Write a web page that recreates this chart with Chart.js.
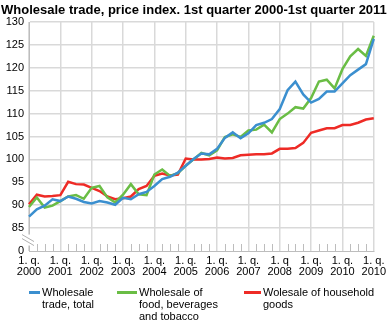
<!DOCTYPE html>
<html>
<head>
<meta charset="utf-8">
<script src="https://cdn.jsdelivr.net/npm/chart.js@4.4.1/dist/chart.umd.min.js"></script>
<style>
  html, body { margin:0; padding:0; background:#fff; }
  body { width:390px; height:321px; position:relative; overflow:hidden; font-family:"Liberation Sans", Arial, sans-serif; }
  #title { position:absolute; left:1px; top:2px; font-weight:bold; font-size:13px; color:#000; white-space:nowrap; letter-spacing:0px; }
  #wrap { position:absolute; left:0; top:0; width:390px; height:321px; }
  .lg { position:absolute; font-size:11px; line-height:12px; color:#000; }
  .lg .sw { position:absolute; left:0; top:5px; height:3px; }
  .lg .tx { position:absolute; top:0; white-space:nowrap; }
</style>
</head>
<body>
<div id="wrap"><canvas id="c" width="390" height="321"></canvas></div>
<div id="title">Wholesale trade, price index. 1st quarter 2000-1st quarter 2011</div>
<div id="legend"></div>
<script>
const quarters = [];
for (let y = 2000; y <= 2011; y++) for (let q = 1; q <= 4; q++) if (!(y === 2011 && q > 1)) quarters.push(q + '. q. ' + y);

const yearTicks = [
  ["1. q.","2000"],["1. q.","2001"],["1. q.","2002"],["1. q.","2003"],
  ["1. q.","2004"],["1. q.","2005"],["1. q.","2006"],["1. q.","2007"],
  ["1. q","2008"],["1. q.","2009"],["1. q.","2010"],["1. q.","2010"]
];

const wholesaleTotal = [87.5,89.1,89.9,91.3,90.9,91.9,91.4,90.7,90.4,90.9,90.6,90.1,
  91.6,91.3,92.4,92.9,94.2,95.7,96.2,97.1,98.6,100.1,101.3,101.1,
  102.3,104.7,105.9,104.6,105.7,107.5,108.0,108.8,111.0,115.1,117.0,114.2,
  112.4,113.2,114.8,114.8,116.6,118.4,119.6,120.8,126.3];

const foodBeverages = [89.6,91.7,89.5,89.9,90.9,91.9,92.2,91.4,93.8,94.2,91.7,90.6,
  92.3,94.6,92.4,92.2,96.7,97.8,96.4,97.0,98.6,100.0,101.4,100.9,
  102.0,104.9,105.5,104.9,106.3,106.5,107.6,105.9,108.8,110.0,111.4,111.1,
  113.4,117.0,117.4,115.5,119.7,122.5,124.1,122.6,127.0];

const householdGoods = [90.2,92.3,91.9,92.0,92.2,95.1,94.6,94.5,93.8,93.1,91.9,91.3,
  91.5,91.9,93.5,94.2,96.4,96.9,96.5,96.7,100.2,100.0,100.0,100.1,
  100.4,100.2,100.3,100.9,101.0,101.1,101.1,101.3,102.3,102.3,102.5,103.6,
  105.8,106.3,106.8,106.8,107.5,107.5,108.0,108.7,109.0];

const seriesNames = [["Wholesale","trade, total"],["Wholesale of","food, beverages","and tobacco"],["Wolesale of household","goods"]];
const colors = ['#3b8fcf','#6abd45','#ee2b26'];

const FONT = '"Liberation Sans", Arial, sans-serif';
const GRID = '#d9d9d9';
const AXIS = '#bdbdbd';

const extras = {
  id: 'extras',
  afterDraw(chart) {
    const ctx = chart.ctx, xs = chart.scales.x, ys = chart.scales.y;
    const bottom = ys.getPixelForValue(80);
    ctx.save();
    ctx.strokeStyle = AXIS; ctx.lineWidth = 1;
    for (let i = 0; i < quarters.length; i++) {
      if (i % 4 === 0) continue;
      const px = Math.round(xs.getPixelForValue(i)) + 0.5;
      ctx.beginPath(); ctx.moveTo(px, bottom); ctx.lineTo(px, bottom - 7); ctx.stroke();
    }
    // axis break
    const left = chart.chartArea.left;
    const y85 = ys.getPixelForValue(85);
    const mid = (y85 + bottom) / 2 + 1;
    ctx.fillStyle = '#fff';
    ctx.fillRect(left - 4, mid - 6, 8, 11);
    ctx.strokeStyle = '#b0b0b0'; ctx.lineWidth = 1;
    for (const off of [-2, 2]) {
      ctx.beginPath(); ctx.moveTo(left - 7, mid - 4 + off); ctx.lineTo(left + 5, mid + 3 + off); ctx.stroke();
    }
    ctx.restore();
  }
};

new Chart(document.getElementById('c'), {
  type: 'line',
  data: {
    labels: quarters,
    datasets: [
      { label: seriesNames[0].join(' '), data: wholesaleTotal, borderColor: colors[0] },
      { label: seriesNames[1].join(' '), data: foodBeverages, borderColor: colors[1] },
      { label: seriesNames[2].join(' '), data: householdGoods, borderColor: colors[2] }
    ].map(d => Object.assign(d, { borderWidth: 2.5, pointRadius: 0, tension: 0, fill: false }))
  },
  options: {
    responsive: false, animation: false,
    layout: { padding: { left: 0, right: 13, top: 22, bottom: 40 } },
    plugins: { legend: { display: false }, title: { display: false }, tooltip: { enabled: false } },
    scales: {
      x: {
        offset: false,
        afterFit(s) { s.height = 30; },
        border: { display: true, color: AXIS, width: 1 },
        grid: { drawTicks: false, color: c => (c.index % 4 === 0 ? GRID : 'rgba(0,0,0,0)'), lineWidth: 1.5 },
        ticks: {
          autoSkip: false, maxRotation: 0, padding: 4, color: '#000',
          font: { family: FONT, size: 11, lineHeight: 1.05 },
          callback: (v, i) => (i % 4 === 0 ? yearTicks[i / 4] : '')
        }
      },
      y: {
        min: 80, max: 130,
        afterFit(s) { s.width = 29; },
        border: { display: true, color: AXIS, width: 1 },
        grid: { drawTicks: false, color: c => (c.tick && c.tick.value === 80 ? 'rgba(0,0,0,0)' : GRID), lineWidth: 1.5 },
        ticks: {
          stepSize: 5, padding: 5, color: '#000',
          font: { family: FONT, size: 11 },
          callback: v => (v === 80 ? '0' : v)
        }
      }
    }
  },
  plugins: [extras]
});

// legend
const legendPos = [ {x: 29, w: 11}, {x: 117, w: 20}, {x: 244, w: 17} ];
const lg = document.getElementById('legend');
seriesNames.forEach((lines, k) => {
  const d = document.createElement('div');
  d.className = 'lg';
  d.style.left = legendPos[k].x + 'px';
  d.style.top = '286px';
  const sw = document.createElement('div');
  sw.className = 'sw'; sw.style.width = legendPos[k].w + 'px'; sw.style.background = colors[k];
  const tx = document.createElement('div');
  tx.className = 'tx'; tx.style.left = (legendPos[k].w + 2) + 'px';
  tx.innerHTML = lines.join('<br>');
  d.appendChild(sw); d.appendChild(tx);
  lg.appendChild(d);
});
</script>
</body>
</html>
